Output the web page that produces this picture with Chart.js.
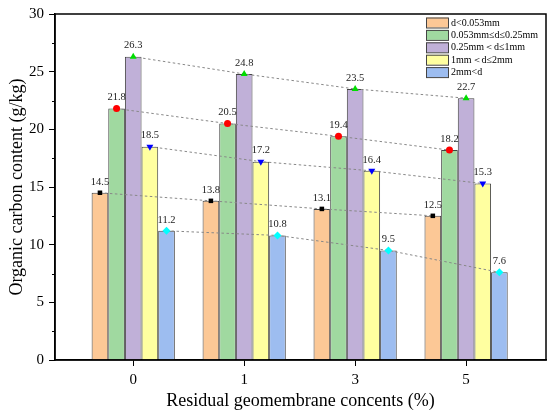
<!DOCTYPE html>
<html><head><meta charset="utf-8">
<script src="https://cdn.jsdelivr.net/npm/chart.js@4.4.1/dist/chart.umd.min.js"></script>
<style>html,body{margin:0;padding:0;background:#fff}#wrap{width:550px;height:416px}</style>
</head><body><div id="wrap"><canvas id="c" width="550" height="416"></canvas></div>
<script>
const categories = ['0', '1', '3', '5'];
const seriesNames = ['d<0.053mm', '0.053mm≤d≤0.25mm', '0.25mm＜d≤1mm', '1mm＜d≤2mm', '2mm<d'];
const s1 = [14.5, 13.8, 13.1, 12.5];
const s2 = [21.8, 20.5, 19.4, 18.2];
const s3 = [26.3, 24.8, 23.5, 22.7];
const s4 = [18.5, 17.2, 16.4, 15.3];
const s5 = [11.2, 10.8, 9.5, 7.6];
const yTicks = [0, 5, 10, 15, 20, 25, 30];

const series = [s1, s2, s3, s4, s5];
const fills = ['#FCC896', '#A0D9A0', '#C0B0D8', '#FFFFA0', '#9DBDF0'];
const markerColors = ['#000000', '#FF0000', '#00DD00', '#0000FF', '#00FFFF'];
const markerStyles = ['rect', 'circle', 'triangle', 'triangle', 'rectRot'];
const markerRot = [0, 0, 0, 180, 0];
const markerRad = [3.2, 3.5, 4, 4, 4];
const catPct = 0.75;
const nS = series.length;
const bw = catPct / nS;
const FONT = "'Liberation Serif', 'Times New Roman', serif";

const datasets = [];
series.forEach((vals, s) => {
  datasets.push({
    type: 'line', order: 0,
    data: vals.map((v, i) => ({x: i + (s - (nS - 1) / 2) * bw, y: v})),
    borderColor: '#888', borderWidth: 1, borderDash: [2.5, 2.5],
    pointStyle: markerStyles[s], pointRotation: markerRot[s],
    pointRadius: markerRad[s],
    pointBackgroundColor: markerColors[s], pointBorderColor: markerColors[s], pointBorderWidth: 0,
    fill: false, tension: 0, valueLabels: true
  });
});
series.forEach((vals, s) => {
  datasets.push({
    type: 'bar', order: 1, label: seriesNames[s],
    data: vals.map((v, i) => ({x: i, y: v})),
    backgroundColor: fills[s], borderColor: '#444', borderWidth: 1,
    categoryPercentage: catPct, barPercentage: 1.0
  });
});

const deco = {
  id: 'deco',
  afterDatasetsDraw(chart) {
    const ctx = chart.ctx, ca = chart.chartArea, y = chart.scales.y;
    ctx.save();
    ctx.fillStyle = '#222';
    ctx.font = '10.5px ' + FONT;
    ctx.textAlign = 'center'; ctx.textBaseline = 'middle';
    chart.data.datasets.forEach((ds, di) => {
      if (!ds.valueLabels) return;
      const meta = chart.getDatasetMeta(di);
      meta.data.forEach((pt, i) => {
        ctx.fillText(ds.data[i].y.toFixed(1), pt.x, pt.y - 11);
      });
    });
    ctx.strokeStyle = '#000'; ctx.lineWidth = 1.5;
    ctx.strokeRect(ca.left, ca.top, ca.right - ca.left, ca.bottom - ca.top);
    ctx.lineWidth = 1;
    for (let v = 2.5; v < 30; v += 5) {
      const py = Math.round(y.getPixelForValue(v)) + 0.5;
      ctx.beginPath(); ctx.moveTo(ca.left - 3, py); ctx.lineTo(ca.left, py); ctx.stroke();
    }
    const lx = 426, ly0 = 17.5, dy = 12.4;
    ctx.font = '10px ' + FONT;
    ctx.textAlign = 'left'; ctx.textBaseline = 'middle';
    seriesNames.forEach((n, s) => {
      const ly = ly0 + s * dy;
      ctx.fillStyle = fills[s];
      ctx.fillRect(lx, ly, 22, 10);
      ctx.strokeStyle = '#444'; ctx.lineWidth = 1;
      ctx.strokeRect(lx + 0.5, ly + 0.5, 22, 10);
      ctx.fillStyle = '#000';
      ctx.fillText(n, lx + 25, ly + 5.5);
    });
    ctx.restore();
  }
};

new Chart(document.getElementById('c'), {
  data: {datasets},
  options: {
    responsive: false, animation: false,
    layout: {padding: {top: 11, right: 4, left: 0, bottom: 0}},
    plugins: {legend: {display: false}, tooltip: {enabled: false}},
    scales: {
      x: {
        type: 'linear', min: -0.705, max: 3.72, offset: false,
        afterBuildTicks(sc) { sc.ticks = categories.map((c, i) => ({value: i})); },
        ticks: {callback: (v) => categories[v], color: '#000', font: {family: FONT, size: 15}, padding: 5, maxRotation: 0},
        grid: {display: true, offset: false, drawOnChartArea: false, drawTicks: true, tickLength: 6, color: '#000', lineWidth: 1},
        border: {display: true, color: '#000', width: 1.5},
        title: {display: true, text: 'Residual geomembrane concents (%)', color: '#000', font: {family: FONT, size: 18}, padding: {top: 6, bottom: 4}},
        afterFit(sc) { sc.height = 56; }
      },
      y: {
        type: 'linear', min: 0, max: 30,
        afterBuildTicks(sc) { sc.ticks = yTicks.map(v => ({value: v})); },
        ticks: {color: '#000', font: {family: FONT, size: 15}, padding: 5},
        grid: {display: true, drawOnChartArea: false, drawTicks: true, tickLength: 6, color: '#000', lineWidth: 1},
        border: {display: true, color: '#000', width: 1.5},
        title: {display: true, text: 'Organic carbon content (g/kg)', color: '#000', font: {family: FONT, size: 18}, padding: {top: 6, bottom: 0}},
        afterFit(sc) { sc.width = 55; }
      }
    }
  },
  plugins: [deco]
});
</script></body></html>
